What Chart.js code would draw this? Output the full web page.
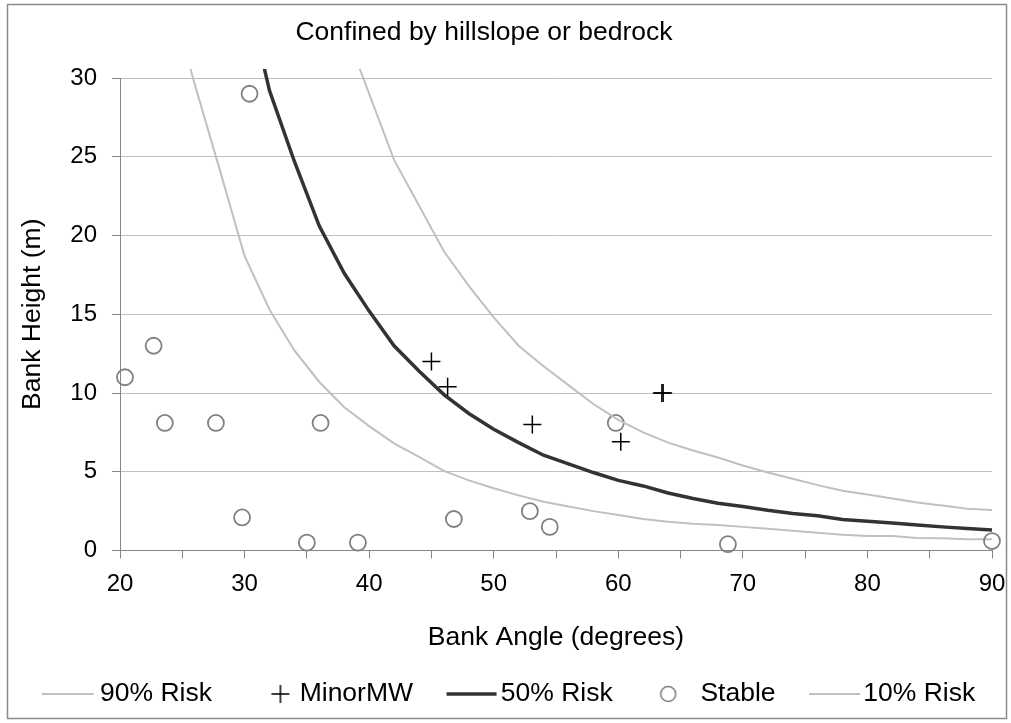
<!DOCTYPE HTML>
<html>
<head>
    <meta charset="utf-8">
    <title>Confined by hillslope or bedrock</title>
    <script src="https://cdn.jsdelivr.net/npm/chart.js"></script>
    <style>
        body { margin: 0; background: #fff; }
    </style>
</head>
<body>
    <canvas id="chart" width="1011" height="723"></canvas>
    <script>
        const risk90Angle = [39, 40, 42, 44, 46, 48, 50, 52, 54, 56, 58, 60, 62, 64, 66, 68, 70, 72, 74, 76, 78, 80, 82, 84, 86, 88, 90];
        const risk90Height = [31.1, 29.0, 24.8, 21.9, 19.0, 16.8, 14.8, 13.0, 11.7, 10.5, 9.3, 8.3, 7.5, 6.85, 6.35, 5.9, 5.4, 4.95, 4.55, 4.15, 3.8, 3.55, 3.3, 3.05, 2.85, 2.65, 2.57];

        const risk50Angle = [31, 32, 34, 36, 38, 40, 42, 44, 46, 48, 50, 52, 54, 56, 58, 60, 62, 64, 66, 68, 70, 72, 74, 76, 78, 80, 82, 84, 86, 88, 90];
        const risk50Height = [32.6, 29.2, 24.7, 20.6, 17.6, 15.2, 13.0, 11.4, 9.9, 8.7, 7.7, 6.85, 6.05, 5.5, 4.95, 4.45, 4.1, 3.65, 3.3, 3.0, 2.8, 2.55, 2.35, 2.2, 1.97, 1.85, 1.75, 1.62, 1.5, 1.4, 1.3];

        const risk10Angle = [25.5, 26, 28, 30, 32, 34, 36, 38, 40, 42, 44, 46, 48, 50, 52, 54, 56, 58, 60, 62, 64, 66, 68, 70, 72, 74, 76, 78, 80, 82, 84, 86, 88, 90];
        const risk10Height = [31.0, 29.6, 24.2, 18.7, 15.3, 12.7, 10.7, 9.1, 7.9, 6.8, 5.95, 5.05, 4.45, 3.95, 3.5, 3.1, 2.8, 2.5, 2.25, 2.0, 1.83, 1.7, 1.62, 1.5, 1.38, 1.25, 1.12, 1.0, 0.92, 0.92, 0.8, 0.78, 0.71, 0.71];

        const minorAngle = [45.0, 46.3, 53.1, 60.2, 63.5, 63.6];
        const minorHeight = [12.0, 10.4, 8.0, 6.9, 10.0, 10.0];

        const stableAngle = [20.4, 22.7, 23.6, 27.7, 29.8, 30.4, 35.0, 36.1, 39.1, 46.8, 52.9, 54.5, 59.8, 68.8, 90.0];
        const stableHeight = [11.0, 13.0, 8.1, 8.1, 2.1, 29.0, 0.5, 8.1, 0.5, 2.0, 2.5, 1.5, 8.1, 0.4, 0.6];

        const xTickLabels = [20, 30, 40, 50, 60, 70, 80, 90];

        const toPoints = (xs, ys) => xs.map((x, i) => ({x: x, y: ys[i]}));

        const fontFamily = "'Liberation Sans', Arial, sans-serif";
        const tickSize = 24;
        const textSize = 26.5;
        const lightLine = '#c0c0c0';
        const darkLine = '#333333';
        const axisGray = '#868686';

        // legend icons: 78px wide canvases, the label text starts at about x=78
        function iconCanvas(draw) {
            const c = document.createElement('canvas');
            c.width = 78; c.height = 24;
            draw(c.getContext('2d'));
            return c;
        }
        const lineIcon = (color, width, x0, x1) => iconCanvas((g) => {
            g.strokeStyle = color; g.lineWidth = width;
            g.beginPath(); g.moveTo(x0, 12); g.lineTo(x1, 12); g.stroke();
        });
        const crossIcon = (cx) => iconCanvas((g) => {
            g.strokeStyle = '#000'; g.lineWidth = 1.5;
            g.beginPath();
            g.moveTo(cx - 9, 12); g.lineTo(cx + 9, 12);
            g.moveTo(cx, 3); g.lineTo(cx, 21);
            g.stroke();
        });
        const circleIcon = (cx) => iconCanvas((g) => {
            g.strokeStyle = '#808080'; g.lineWidth = 1.6;
            g.beginPath(); g.arc(cx, 12, 7.5, 0, Math.PI * 2); g.stroke();
        });
        const icons = [
            lineIcon(lightLine, 2, 20, 72),
            crossIcon(59),
            lineIcon(darkLine, 3.5, 24, 74),
            circleIcon(46),
            lineIcon(lightLine, 2, 24, 75),
        ];

        const lineClip = {left: 0, top: 9, right: 0, bottom: 0};

        const frame = {
            id: 'frame',
            beforeDraw(chart) {
                const ctx = chart.ctx;
                ctx.save();
                ctx.fillStyle = '#fff';
                ctx.fillRect(0, 0, chart.width, chart.height);
                ctx.strokeStyle = '#8a8a8a';
                ctx.lineWidth = 1.5;
                ctx.strokeRect(7.5, 4.5, 999, 714);
                ctx.restore();
            }
        };

        // nudge title and legend sideways, as in the original
        const nudge = {
            id: 'nudge',
            afterLayout(chart) {
                chart.titleBlock.left -= 12;
                chart.titleBlock.right -= 12;
                chart.legend.left += 9;
                chart.legend.right += 9;
            }
        };

        new Chart(document.getElementById('chart').getContext('2d'), {
            type: 'scatter',
            data: {
                datasets: [
                    {
                        label: '90% Risk',
                        data: toPoints(risk90Angle, risk90Height),
                        showLine: true,
                        borderColor: lightLine,
                        borderWidth: 2,
                        pointRadius: 0,
                        clip: lineClip,
                    },
                    {
                        label: 'MinorMW',
                        data: toPoints(minorAngle, minorHeight),
                        pointStyle: 'cross',
                        pointRadius: 9,
                        borderColor: '#000',
                        borderWidth: 1.5,
                        backgroundColor: '#000',
                    },
                    {
                        label: '50% Risk',
                        data: toPoints(risk50Angle, risk50Height),
                        showLine: true,
                        borderColor: darkLine,
                        borderWidth: 3.5,
                        pointRadius: 0,
                        clip: lineClip,
                    },
                    {
                        label: 'Stable',
                        data: toPoints(stableAngle, stableHeight),
                        pointStyle: 'circle',
                        pointRadius: 8,
                        borderColor: '#808080',
                        borderWidth: 1.8,
                        backgroundColor: 'rgba(0,0,0,0)',
                        clip: {left: 10, top: 10, right: 10, bottom: 10},
                    },
                    {
                        label: '10% Risk',
                        data: toPoints(risk10Angle, risk10Height),
                        showLine: true,
                        borderColor: lightLine,
                        borderWidth: 2,
                        pointRadius: 0,
                        clip: lineClip,
                    },
                ]
            },
            options: {
                responsive: false,
                animation: false,
                devicePixelRatio: 1,
                layout: {padding: {left: 0, right: 19, top: 0, bottom: 5.75}},
                font: {family: fontFamily, size: textSize},
                color: '#000',
                plugins: {
                    tooltip: {enabled: false},
                    title: {
                        display: true,
                        text: 'Confined by hillslope or bedrock',
                        color: '#000',
                        font: {family: fontFamily, size: textSize, weight: 'normal'},
                        padding: {top: 17.1, bottom: 29.1},
                    },
                    legend: {
                        position: 'bottom',
                        labels: {
                            usePointStyle: true,
                            pointStyleWidth: 52,
                            boxHeight: 20,
                            padding: 22.5,
                            color: '#000',
                            font: {family: fontFamily, size: textSize},
                            generateLabels(chart) {
                                return chart.data.datasets.map((ds, i) => ({
                                    text: ds.label,
                                    pointStyle: icons[i],
                                    fillStyle: 'rgba(0,0,0,0)',
                                    strokeStyle: 'rgba(0,0,0,0)',
                                    lineWidth: 0,
                                    fontColor: '#000',
                                    hidden: false,
                                    datasetIndex: i,
                                }));
                            }
                        }
                    }
                },
                scales: {
                    x: {
                        type: 'linear',
                        min: 20,
                        max: 90,
                        afterFit(scale) {
                            scale.height = 107.75;
                            // let the "90" label hang into the right margin
                            scale.paddingLeft = 0;
                            scale.paddingRight = 0;
                        },
                        ticks: {
                            stepSize: 5,
                            autoSkip: false,
                            maxRotation: 0,
                            padding: 11,
                            color: '#000',
                            font: {family: fontFamily, size: tickSize},
                            callback: (v) => xTickLabels.includes(v) ? String(v) : '',
                        },
                        grid: {
                            drawOnChartArea: false,
                            drawTicks: true,
                            tickLength: 8,
                            tickColor: axisGray,
                        },
                        border: {color: axisGray, width: 1},
                        title: {
                            display: true,
                            text: 'Bank Angle (degrees)',
                            color: '#000',
                            font: {family: fontFamily, size: textSize},
                            padding: {top: 0, bottom: 4.4},
                        }
                    },
                    y: {
                        type: 'linear',
                        min: 0,
                        max: 30,
                        afterFit(scale) { scale.width = 120; },
                        ticks: {
                            stepSize: 5,
                            padding: 15,
                            color: '#000',
                            font: {family: fontFamily, size: tickSize},
                        },
                        grid: {
                            color: lightLine,
                            lineWidth: 1,
                            tickLength: 8,
                            tickColor: axisGray,
                        },
                        border: {color: axisGray, width: 1},
                        title: {
                            display: true,
                            text: 'Bank Height (m)',
                            color: '#000',
                            font: {family: fontFamily, size: textSize},
                            padding: {top: 17.1, bottom: 0},
                        }
                    }
                }
            },
            plugins: [frame, nudge]
        });
    </script>
</body>
</html>
